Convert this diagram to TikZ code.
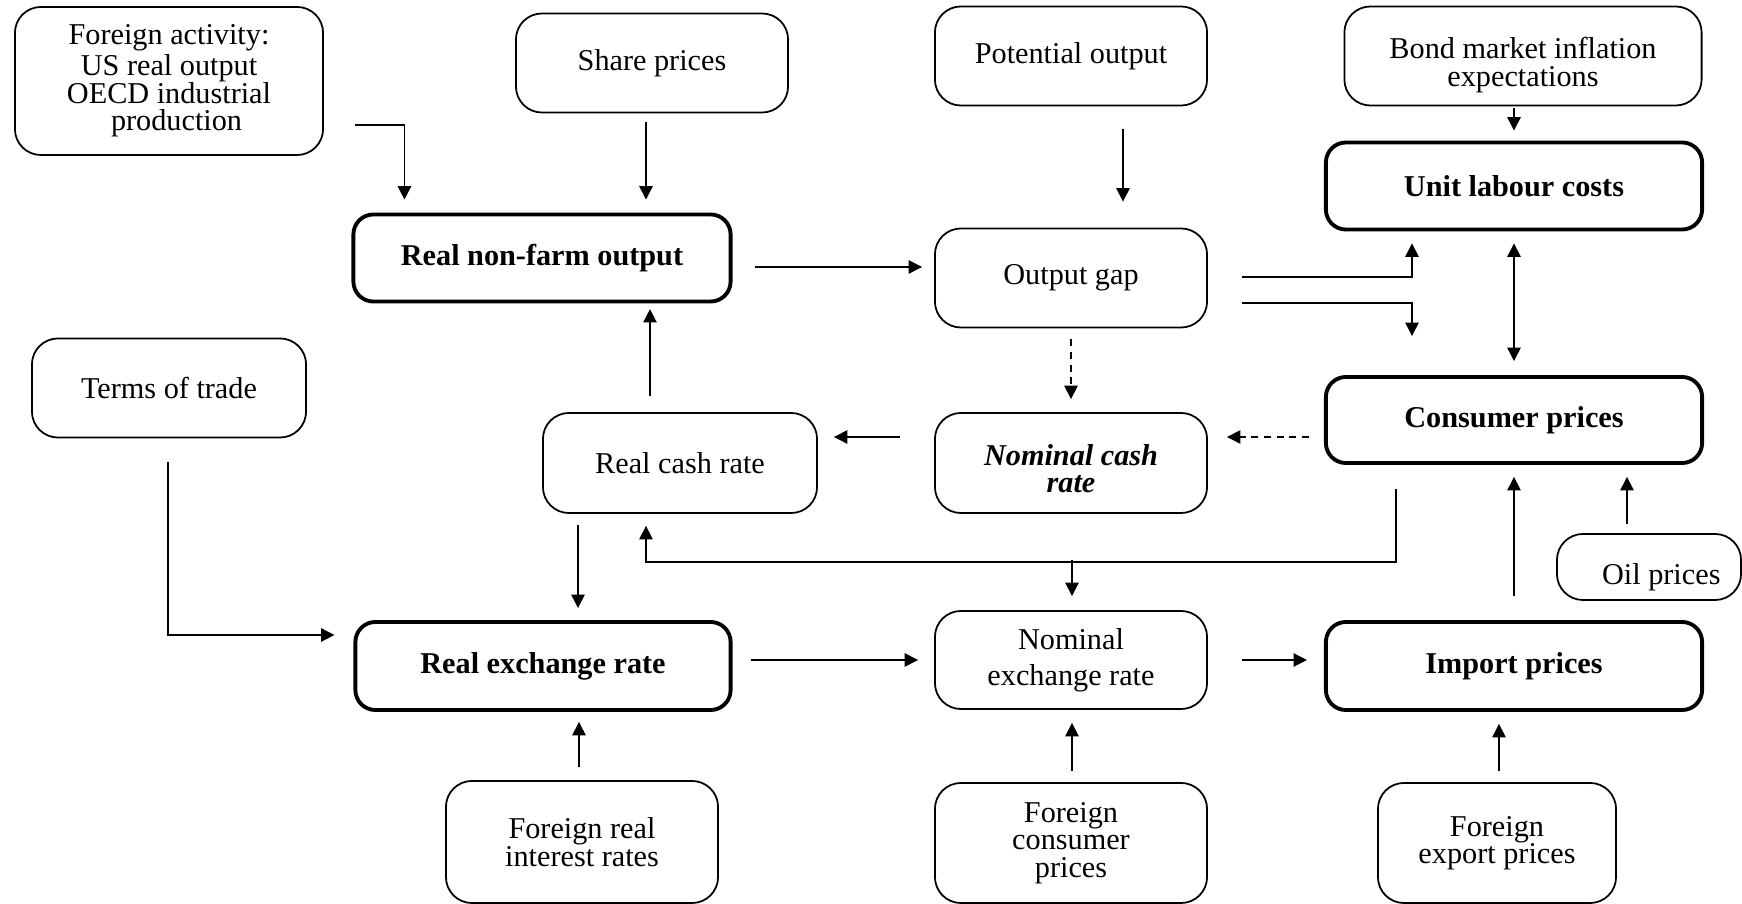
\documentclass[tikz,border=0pt]{standalone}
\usepackage{fontspec}
\setmainfont{Liberation Serif}
\usetikzlibrary{arrows.meta,calc}

\tikzset{
  box/.style={draw, rounded corners=0.26cm, align=center, inner sep=0pt, line width=0.5pt, font=\fontsize{8.6}{7.8}\selectfont},
  keybox/.style={box, line width=1.1pt, rounded corners=0.2cm, font=\fontsize{8.6}{7.8}\selectfont\bfseries},
  arr/.style={-{Triangle[length=3.8pt,width=3.8pt]}, line width=0.4pt},
  policy/.style={dash pattern=on 2pt off 1.6pt},
}
\newcommand{\lowered}[2]{\raisebox{-#1}[\height][\depth]{#2}}

\begin{document}
\begin{tikzpicture}[x=0.01cm,y=-0.01cm]
\useasboundingbox (0,0) rectangle (1742,904);

% top row
\node[box, minimum width=3.08cm, minimum height=1.48cm] (foract) at (169,81) {Foreign activity:\\US real output\\OECD industrial\\\ \ production};
\node[box, minimum width=2.72cm, minimum height=0.99cm] (share) at (652,63) {Share prices};
\node[box, minimum width=2.72cm, minimum height=0.99cm] (potout) at (1071,56) {Potential output};
\node[box, minimum width=3.57cm, minimum height=0.99cm] (bond) at (1523,56) {\lowered{2.6pt}{Bond market inflation}\\\lowered{2.6pt}{expectations}};

% output and costs
\node[keybox, minimum width=3.77cm, minimum height=0.87cm] (rnfo) at (542,258) {Real non-farm output};
\node[box, minimum width=2.72cm, minimum height=0.99cm] (gap) at (1071,278) {Output gap};
\node[keybox, minimum width=3.76cm, minimum height=0.87cm] (ulc) at (1514,186) {Unit labour costs};

% rates and prices
\node[box, minimum width=2.74cm, minimum height=0.99cm] (tot) at (169,388) {Terms of trade};
\node[box, minimum width=2.74cm, minimum height=1.00cm] (rcr) at (680,463) {Real cash rate};
\node[box, minimum width=2.72cm, minimum height=1.00cm, font=\fontsize{8.6}{7.8}\selectfont\bfseries\itshape] (ncr) at (1071,463) {\lowered{1.6pt}{Nominal cash}\\\lowered{1.6pt}{rate}};
\node[keybox, minimum width=3.76cm, minimum height=0.86cm] (cp) at (1514,420) {Consumer prices};
\node[box, minimum width=1.84cm, minimum height=0.66cm] (oil) at (1649,567) {\hspace{7pt}\lowered{2.8pt}{Oil prices}};

% exchange rates
\node[keybox, minimum width=3.75cm, minimum height=0.88cm] (rer) at (543,666) {Real exchange rate};
\node[box, minimum width=2.72cm, minimum height=0.98cm] (ner) at (1071,660) {Nominal\\[2.5pt]exchange rate};
\node[keybox, minimum width=3.76cm, minimum height=0.88cm] (imp) at (1514,666) {Import prices};

% bottom row
\node[box, minimum width=2.72cm, minimum height=1.22cm] (frir) at (582,842) {Foreign real\\interest rates};
\node[box, minimum width=2.72cm, minimum height=1.20cm] (fcp) at (1071,843) {Foreign\\consumer\\prices};
\node[box, minimum width=2.38cm, minimum height=1.20cm] (fep) at (1497,843) {Foreign\\export prices};

% links
\draw[arr] ($(foract.east)+(31,44)$) -| ($(rnfo.north west)+(53,-13)$);
\draw[arr] ($(share.south)+(-6,9)$) -- ($(share.south |- rnfo.north)+(-6,-13)$);
\draw[arr] ($(potout.south)+(52,23)$) -- ($(potout.south |- gap.north)+(52,-26)$);
\draw[arr] ($(bond.south -| ulc.north)+(0,2)$) -- ($(ulc.north)+(0,-10)$);
\draw[arr] ($(rnfo.east)+(22,9)$) -- ($(rnfo.east -| gap.west)+(-12,9)$);
\draw[arr] ($(gap.east)+(34,-1)$) -| ($(ulc.south)+(-102,12)$);
\draw[arr] ($(gap.east)+(34,25)$) -| ($(cp.north)+(-102,-39)$);
\draw[{Triangle[length=3.8pt,width=3.8pt]}-{Triangle[length=3.8pt,width=3.8pt]}, line width=0.4pt] ($(ulc.south)+(0,12)$) -- ($(cp.north)+(0,-14)$);
\draw[arr, policy] ($(gap.south)+(0,11)$) -- ($(ncr.north)+(0,-13)$);
\draw[arr, policy] ($(cp.west)+(-15,17)$) -- ($(ncr.east)+(19,-26)$);
\draw[arr] ($(ncr.west)+(-34,-26)$) -- ($(rcr.east)+(16,-26)$);
\draw[arr] ($(rcr.north)+(-30,-16)$) -- ($(rcr.north -| rnfo.south)+(108,-103)$);
\draw[arr] ($(rcr.south)+(-102,11)$) -- ($(rer.north)+(35,-12)$);
\draw[arr] ($(cp.south)+(-118,24)$) |- ($(rcr.south)+(-34,48)$) -- ($(rcr.south)+(-34,12)$);
\draw[arr] ($(ner.north)+(1,-50)$) -- ($(ner.north)+(1,-14)$);
\draw[arr] ($(tot.south)+(-1,24)$) |- ($(rer.west)+(-19,-31)$);
\draw[arr] ($(rer.east)+(18,-6)$) -- ($(ner.west)+(-16,0)$);
\draw[arr] ($(ner.east)+(34,0)$) -- ($(imp.west)+(-17,-6)$);
\draw[arr] ($(imp.north)+(0,-24)$) -- ($(cp.south)+(0,12)$);
\draw[arr] ($(oil.north)+(-22,-9)$) -- ($(cp.south)+(113,12)$);
\draw[arr] ($(frir.north)+(-3,-13)$) -- ($(rer.south)+(36,10)$);
\draw[arr] ($(fcp.north)+(1,-11)$) -- ($(ner.south)+(1,13)$);
\draw[arr] ($(fep.north)+(2,-11)$) -- ($(imp.south)+(-15,12)$);

\end{tikzpicture}
\end{document}
